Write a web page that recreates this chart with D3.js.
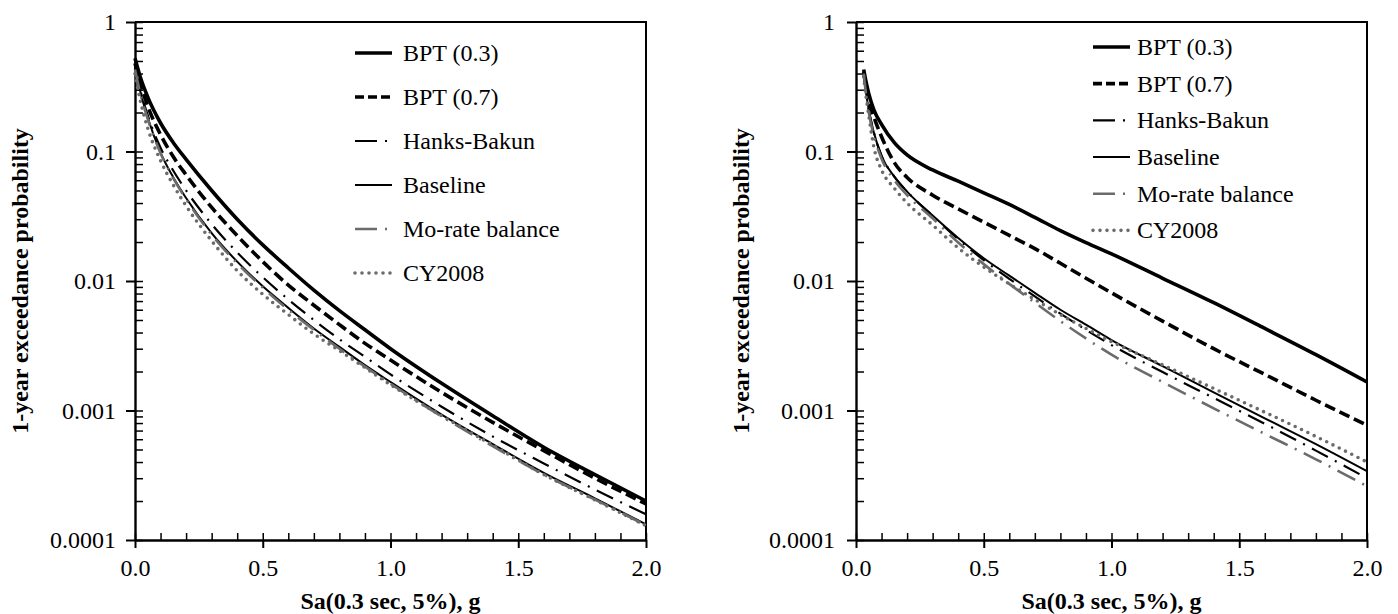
<!DOCTYPE html>
<html>
<head>
<meta charset="utf-8">
<script src="https://cdnjs.cloudflare.com/ajax/libs/d3/7.8.5/d3.min.js"></script>
<style>
  body { margin: 0; background: #fff; }
  svg { display: block; }
  text { font-family: "Liberation Serif", "Times New Roman", serif; }
</style>
</head>
<body>
<svg width="1398" height="614"></svg>
<script>
  // Sa values (g) where the curves were read
  const saLeft  = [0, 0.02, 0.05, 0.1, 0.15, 0.2, 0.3, 0.4, 0.5, 0.6, 0.7, 0.8, 0.9, 1.0, 1.2, 1.4, 1.6, 1.8, 2.0];
  const saRight = [0.03, 0.04, 0.05, 0.07, 0.1, 0.15, 0.2, 0.3, 0.4, 0.5, 0.6, 0.7, 0.8, 0.9, 1.0, 1.2, 1.4, 1.6, 1.8, 2.0];

  // left panel: 1-year exceedance probability
  const bpt03Left   = [0.525, 0.38, 0.263, 0.166, 0.117, 0.087, 0.050, 0.030, 0.019, 0.0126, 0.0085, 0.0059, 0.0042, 0.0030, 0.00162, 0.00091, 0.00052, 0.00032, 0.0002];
  const bpt07Left   = [0.48, 0.34, 0.224, 0.135, 0.091, 0.066, 0.037, 0.0224, 0.0141, 0.0093, 0.0065, 0.0046, 0.0033, 0.00245, 0.00138, 0.00081, 0.00049, 0.0003, 0.00019];
  const hanksLeft   = [0.447, 0.302, 0.19, 0.107, 0.071, 0.05, 0.0275, 0.0166, 0.0107, 0.0072, 0.005, 0.00355, 0.0026, 0.0019, 0.00107, 0.00063, 0.00039, 0.000245, 0.000158];
  const baseLeft    = [0.447, 0.295, 0.182, 0.098, 0.063, 0.0437, 0.0234, 0.0141, 0.0091, 0.0062, 0.0043, 0.0031, 0.00224, 0.00166, 0.00093, 0.00055, 0.00033, 0.00021, 0.000132];
  const moRateLeft  = [0.43, 0.285, 0.178, 0.097, 0.062, 0.0428, 0.0228, 0.0137, 0.0089, 0.006, 0.0042, 0.003, 0.00218, 0.00161, 0.0009, 0.00053, 0.00032, 0.000205, 0.00013];
  const cy2008Left  = [0.398, 0.251, 0.151, 0.085, 0.055, 0.038, 0.0204, 0.012, 0.0079, 0.0055, 0.0039, 0.0029, 0.00214, 0.00158, 0.00091, 0.00054, 0.00032, 0.000204, 0.000129];

  // right panel
  const bpt03Right  = [0.43, 0.34, 0.28, 0.21, 0.162, 0.117, 0.094, 0.072, 0.059, 0.048, 0.039, 0.031, 0.0245, 0.0198, 0.0162, 0.0105, 0.0068, 0.0043, 0.0027, 0.00166];
  const bpt07Right  = [0.41, 0.31, 0.25, 0.185, 0.13, 0.082, 0.063, 0.046, 0.036, 0.0285, 0.0225, 0.0178, 0.0137, 0.0105, 0.0081, 0.0049, 0.003, 0.0019, 0.0012, 0.00077];
  const hanksRight  = [0.41, 0.28, 0.21, 0.14, 0.093, 0.064, 0.049, 0.0318, 0.021, 0.0145, 0.0104, 0.0076, 0.0056, 0.0042, 0.0032, 0.00198, 0.00125, 0.00079, 0.00049, 0.0003];
  const baseRight   = [0.41, 0.28, 0.21, 0.14, 0.092, 0.064, 0.049, 0.032, 0.0215, 0.015, 0.011, 0.0081, 0.006, 0.0046, 0.0035, 0.0022, 0.00138, 0.00087, 0.00055, 0.00034];
  const moRateRight = [0.4, 0.27, 0.2, 0.132, 0.088, 0.06, 0.046, 0.0305, 0.0198, 0.0135, 0.0095, 0.0068, 0.0049, 0.0036, 0.0027, 0.00166, 0.00104, 0.00066, 0.00042, 0.00026];
  const cy2008Right = [0.38, 0.26, 0.19, 0.108, 0.072, 0.052, 0.04, 0.027, 0.018, 0.0128, 0.0095, 0.0072, 0.0055, 0.0043, 0.0034, 0.00225, 0.00148, 0.00097, 0.00063, 0.0004];

  const seriesNames = ["BPT (0.3)", "BPT (0.7)", "Hanks-Bakun", "Baseline", "Mo-rate balance", "CY2008"];
  const xTicks = [0, 0.5, 1.0, 1.5, 2.0];
  const yTicks = [1, 0.1, 0.01, 0.001, 0.0001];
  const xTitle = "Sa(0.3 sec, 5%), g";
  const yTitle = "1-year exceedance probability";

  const styles = [
    { stroke: "#000", width: 3.6, dash: null,         cap: "butt",  legendDash: null },
    { stroke: "#000", width: 3.6, dash: "11,5",       cap: "butt",  legendDash: "9,4" },
    { stroke: "#000", width: 2.2, dash: "18,8,2,8",   cap: "butt",  legendDash: "22,8,2,8" },
    { stroke: "#000", width: 2,   dash: null,         cap: "butt",  legendDash: null },
    { stroke: "#6b6b6b", width: 2.6, dash: "20,8,2,8", cap: "butt", legendDash: "22,8,2,8" },
    { stroke: "#6b6b6b", width: 3.6, dash: "0,7",     cap: "round", legendDash: "0,7" }
  ];

  const svg = d3.select("svg");
  const serif = "Liberation Serif";

  const drawPanel = (p) => {
    const w = p.right - p.left, h = p.bottom - p.top;
    const g = svg.append("g").attr("transform", `translate(${p.left},${p.top})`);

    const x = d3.scaleLinear().domain([0, 2]).range([0, w]);
    const y = d3.scaleLog().domain([0.0001, 1]).range([h, 0]);

    // frame top + right
    g.append("path")
      .attr("d", `M0,0H${w}V${h}`)
      .attr("fill", "none").attr("stroke", "#000").attr("stroke-width", 2);

    // minor ticks (inside)
    const yMinor = [];
    for (let e = -4; e < 0; e++) for (let m = 1; m <= 9; m++) yMinor.push(m * Math.pow(10, e));
    yMinor.push(1);
    g.append("g").call(d3.axisRight(y).tickValues(yMinor).tickSize(8).tickFormat(""))
      .call(a => a.select(".domain").remove())
      .selectAll("line").attr("stroke-width", 1.5);
    g.append("g").attr("transform", `translate(0,${h})`)
      .call(d3.axisTop(x).tickValues(d3.range(0, 2.01, 0.1)).tickSize(7).tickFormat(""))
      .call(a => a.select(".domain").remove())
      .selectAll("line").attr("stroke-width", 1.5);

    // major axes with labels
    const yAx = g.append("g")
      .call(d3.axisLeft(y).tickValues(yTicks).tickSize(9).tickSizeOuter(0).tickPadding(p.yPad).tickFormat(d => String(d)));
    const xAx = g.append("g").attr("transform", `translate(0,${h})`)
      .call(d3.axisBottom(x).tickValues(xTicks).tickSize(8).tickSizeOuter(0).tickPadding(11).tickFormat(d3.format(".1f")));
    [yAx, xAx].forEach(a => {
      a.attr("font-family", serif).attr("font-size", 24);
      a.select(".domain").attr("stroke-width", 2.4);
      a.selectAll("line").attr("stroke-width", 2);
      a.selectAll("text").attr("fill", "#000");
    });

    // curves
    const line = d3.line()
      .x(d => x(d[0]))
      .y(d => y(d[1]))
      .curve(d3.curveMonotoneX);

    p.series.forEach((vals, i) => {
      const s = styles[i];
      g.append("path")
        .datum(p.sa.map((v, j) => [v, vals[j]]))
        .attr("d", line)
        .attr("fill", "none")
        .attr("stroke", s.stroke)
        .attr("stroke-width", s.width)
        .attr("stroke-dasharray", s.dash)
        .attr("stroke-linecap", s.cap);
    });

    // legend
    const lg = svg.append("g");
    seriesNames.forEach((name, i) => {
      const s = styles[i];
      const ly = p.legend.y0 + i * p.legend.dy;
      lg.append("line")
        .attr("x1", p.legend.x1).attr("x2", p.legend.x2)
        .attr("y1", ly).attr("y2", ly)
        .attr("stroke", s.stroke)
        .attr("stroke-width", s.width)
        .attr("stroke-dasharray", s.legendDash)
        .attr("stroke-linecap", s.cap);
      lg.append("text")
        .attr("x", p.legend.tx).attr("y", ly + 8)
        .attr("font-family", serif).attr("font-size", 24)
        .text(name);
    });

    // axis titles
    svg.append("text")
      .attr("x", p.left + w / 2).attr("y", 609)
      .attr("text-anchor", "middle")
      .attr("font-family", serif).attr("font-size", 24).attr("font-weight", "bold")
      .text(xTitle);
    svg.append("text")
      .attr("transform", `translate(${p.left - 107},${p.top + h / 2}) rotate(-90)`)
      .attr("text-anchor", "middle")
      .attr("font-family", serif).attr("font-size", 24).attr("font-weight", "bold")
      .text(yTitle);
  };

  drawPanel({
    left: 135, right: 646, top: 22, bottom: 540, yPad: 10,
    sa: saLeft,
    series: [bpt03Left, bpt07Left, hanksLeft, baseLeft, moRateLeft, cy2008Left],
    legend: { x1: 355, x2: 392, tx: 403, y0: 53, dy: 44 }
  });
  drawPanel({
    left: 856, right: 1367, top: 22, bottom: 540, yPad: 12,
    sa: saRight,
    series: [bpt03Right, bpt07Right, hanksRight, baseRight, moRateRight, cy2008Right],
    legend: { x1: 1093, x2: 1130, tx: 1137, y0: 47, dy: 36.67 }
  });
</script>
</body>
</html>
